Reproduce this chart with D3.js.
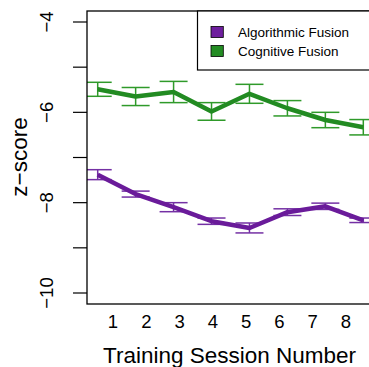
<!DOCTYPE html>
<html>
<head>
<meta charset="utf-8">
<script src="https://cdn.jsdelivr.net/npm/d3@7"></script>
<style>
	body { margin: 0; background: #fff; }
	svg { display: block; font-family: "Liberation Sans", Arial, sans-serif; }
</style>
</head>
<body>
<svg id="fig" width="369" height="367"></svg>
<script>
// training sessions
const sessions = [1, 2, 3, 4, 5, 6, 7, 8];
const sessionLabels = ["1", "2", "3", "4", "5", "6", "7", "8"];

// mean z-scores and standard errors
const algorithmicMean = [-7.38, -7.81, -8.10, -8.41, -8.56, -8.21, -8.08, -8.39];
const algorithmicErr = [0.11, 0.066, 0.10, 0.07, 0.11, 0.074, 0.07, 0.05];
const cognitiveMean = [-5.49, -5.65, -5.55, -5.98, -5.59, -5.91, -6.17, -6.33];
const cognitiveErr = [0.155, 0.20, 0.235, 0.195, 0.21, 0.17, 0.17, 0.17];

const yTicks = [-4, -5, -6, -7, -8, -9, -10];
const yTickLabels = [-4, -6, -8, -10];

const seriesNames = ["Algorithmic Fusion", "Cognitive Fusion"];
const lineColors = ["#6a1b9a", "#228b22"];
const errColors = ["#7430a4", "#2f9a2a"];
const boxColors = ["#6e1f9e", "#238c23"];

const svg = d3.select("#fig");

const plot = { left: 87, top: 11, right: 420, bottom: 304 };

// x: sessions, extends past right edge like the source
const x = d3.scaleLinear()
	.domain([1, 8])
	.range([97.7, 363.3]);

// tick labels sit on their own spacing in the source
const xLab = d3.scaleLinear()
	.domain([1, 8])
	.range([113, 346]);

const y = d3.scaleLinear()
	.domain([-4, -10])
	.range([22, 293]);

svg.append("clipPath").attr("id", "clip")
	.append("rect")
	.attr("x", plot.left)
	.attr("y", plot.top)
	.attr("width", plot.right - plot.left)
	.attr("height", plot.bottom - plot.top);

const series = [
	{ mean: algorithmicMean, err: algorithmicErr },
	{ mean: cognitiveMean, err: cognitiveErr }
];

const g = svg.append("g").attr("clip-path", "url(#clip)");

const line = d3.line()
	.x((d, i) => x(sessions[i]))
	.y(d => y(d));

series.forEach((s, k) => {
	const bars = g.append("g");
	sessions.forEach((sess, i) => {
		const cx = x(sess);
		const lo = y(s.mean[i] - s.err[i]);
		const hi = y(s.mean[i] + s.err[i]);
		bars.append("line").attr("x1", cx).attr("x2", cx).attr("y1", lo).attr("y2", hi);
		bars.append("line").attr("x1", cx - 14).attr("x2", cx + 14).attr("y1", lo).attr("y2", lo);
		bars.append("line").attr("x1", cx - 14).attr("x2", cx + 14).attr("y1", hi).attr("y2", hi);
	});
	bars.selectAll("line")
		.attr("stroke", errColors[k])
		.attr("stroke-width", 1.5);

	g.append("path")
		.datum(s.mean)
		.attr("d", line)
		.attr("fill", "none")
		.attr("stroke", lineColors[k])
		.attr("stroke-width", 4.5)
		.attr("stroke-linejoin", "round");
});

// plot frame
svg.append("rect")
	.attr("x", plot.left)
	.attr("y", plot.top)
	.attr("width", plot.right - plot.left)
	.attr("height", plot.bottom - plot.top)
	.attr("fill", "none")
	.attr("stroke", "#000")
	.attr("stroke-width", 1.3);

// y axis ticks
const yAxis = svg.append("g");
yAxis.selectAll("line")
	.data(yTicks)
	.enter()
	.append("line")
	.attr("x1", 73)
	.attr("x2", plot.left)
	.attr("y1", d => y(d))
	.attr("y2", d => y(d))
	.attr("stroke", "#000")
	.attr("stroke-width", 1.2);

yAxis.selectAll("text")
	.data(yTickLabels)
	.enter()
	.append("text")
	.attr("transform", d => `translate(53,${y(d)}) rotate(-90)`)
	.attr("text-anchor", "middle")
	.attr("font-size", 18.5)
	.text(d => "\u2212" + Math.abs(d));

// x tick labels
svg.append("g").selectAll("text")
	.data(sessions)
	.enter()
	.append("text")
	.attr("x", d => xLab(d))
	.attr("y", 328)
	.attr("text-anchor", "middle")
	.attr("font-size", 18.5)
	.text((d, i) => sessionLabels[i]);

// axis titles
svg.append("text")
	.attr("x", 229.5)
	.attr("y", 363)
	.attr("text-anchor", "middle")
	.attr("font-size", 22.5)
	.text("Training Session Number");

svg.append("text")
	.attr("transform", "translate(27,157) rotate(-90)")
	.attr("text-anchor", "middle")
	.attr("font-size", 22.5)
	.text("z\u2212score");

// legend
const legend = svg.append("g");
legend.append("rect")
	.attr("x", 197.5)
	.attr("y", plot.top)
	.attr("width", 200)
	.attr("height", 59)
	.attr("fill", "#fff")
	.attr("stroke", "#000")
	.attr("stroke-width", 1.2);

seriesNames.forEach((name, i) => {
	const cy = 32 + i * 19;
	legend.append("rect")
		.attr("x", 211)
		.attr("y", cy - 5.5)
		.attr("width", 12.3)
		.attr("height", 11)
		.attr("fill", boxColors[i])
		.attr("stroke", "#000")
		.attr("stroke-width", 0.8);
	legend.append("text")
		.attr("x", 238)
		.attr("y", cy + 4.8)
		.attr("font-size", 13.5)
		.text(name);
});
</script>
</body>
</html>
